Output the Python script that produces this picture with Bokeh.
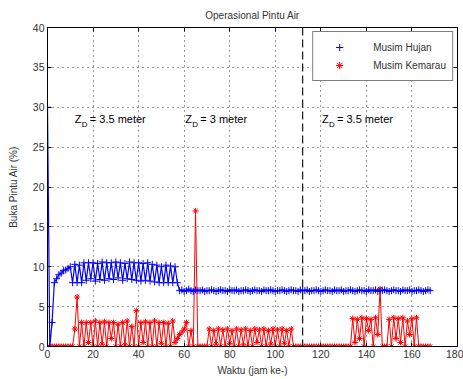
from bokeh.plotting import figure
from bokeh.models import (Range1d, FixedTicker, LinearAxis, Span, Label,
                          Legend, LegendItem, ColumnDataSource)
from bokeh.embed import file_html
from bokeh.resources import INLINE

# ---------------- data ----------------
hours = list(range(169))

musim_hujan = [
    30, 0, 3, 8, 8.5, 9, 9.2, 9.5, 9.6, 9.8,
    10, 8, 10.3, 8, 10.2, 8, 10.5, 8.3, 10.5, 8.5,
    10.5, 8.2, 10.4, 8.4, 10.6, 8.3, 10.5, 8.5, 10.5, 8.4,
    10.6, 8.6, 10.5, 8.3, 10.4, 8.5, 10.6, 8.4, 10.5, 8.3,
    10.5, 8.2, 10.4, 8.3, 10.5, 8.2, 10.3, 8.1, 10.2, 8.0,
    10.0, 8.0, 10.2, 8.0, 10.1, 8.0, 10.0, 8.0,
    7.0, 7.1, 6.9, 7.0, 7.2, 7.0, 6.9, 7.1, 7.0, 7.0,
    7.1, 6.9, 7.0, 7.0, 7.1, 7.0, 6.9, 7.0, 7.1, 7.0,
    7.0, 6.9, 7.1, 7.0, 7.0, 7.1, 6.9, 7.0, 7.0, 7.1,
    7.0, 6.9, 7.0, 7.1, 7.0, 7.0, 6.9, 7.1, 7.0, 7.0,
    7.1, 7.0, 6.9, 7.0, 7.0, 7.1, 7.0, 6.9, 7.0, 7.1,
    7.0, 7.0, 6.9, 7.1, 7.0, 7.0, 7.1, 6.9, 7.0, 7.0,
    7.1, 7.0, 6.9, 7.0, 7.1, 7.0, 7.0, 6.9, 7.1, 7.0,
    7.0, 7.1, 6.9, 7.0, 7.0, 7.1, 7.0, 6.9, 7.0, 7.1,
    7.0, 7.0, 6.9, 7.1, 7.0, 7.0, 7.1, 6.9, 7.0, 7.0,
    7.1, 7.0, 6.9, 7.0, 7.1, 7.0, 7.0, 6.9, 7.1, 7.0,
    7.0, 7.1, 6.9, 7.0, 7.0, 7.1, 7.0, 6.9, 7.0, 7.1,
    7.0,
]

musim_kemarau = [
    0, 0, 0, 0, 0, 0, 0, 0, 0, 0,
    0, 0, 2.2, 6.2, 0, 3, 0, 3, 0.5, 3,
    0, 3.2, 0, 3, 0.3, 3.1, 0, 3, 1, 3,
    0, 2.8, 0, 3, 0.2, 3.2, 0, 2.5, 0, 4.5,
    0, 3, 0.5, 3.1, 0, 3, 0, 3.2, 0, 3,
    0.4, 3, 0, 2.9, 0, 3.2, 0.5, 1, 1.5, 1.8,
    2.2, 3, 0, 2, 0, 17, 0, 0, 0, 0,
    0, 2.2, 0, 2, 0.3, 2.2, 0, 2.1, 0, 2.2,
    0.4, 2, 0, 2.2, 0, 2.1, 0.2, 2.2, 0, 2,
    0, 2.2, 0.5, 2.1, 0, 2.2, 0, 2, 0.3, 2.2,
    0, 2.1, 0, 2.2, 0.4, 2, 0, 2.2, 0, 0,
    0, 0, 0, 0, 0, 0, 0, 0, 0, 0,
    0, 0, 0, 0, 0, 0, 0, 0, 0, 0,
    0, 0, 0, 0, 3.5, 0.5, 3.4, 1, 3.6, 0,
    3.5, 2, 3.4, 0, 3.6, 1.5, 7.2, 0, 0, 0,
    3.4, 0, 3.6, 1, 3.5, 0.5, 3.6, 0, 3.2, 1.5,
    3.5, 0, 3.6, 0, 0, 0, 0, 0, 0,
]

x_ticks = [0, 20, 40, 60, 80, 100, 120, 140, 160, 180]
y_ticks = [0, 5, 10, 15, 20, 25, 30, 35, 40]
divider_x = 112
zone_x = [12, 60.5, 120.5]
zone_y = [28.5, 28.5, 28.5]
zone_depth = ["3.5", "3", "3.5"]

FONT = "Liberation Sans"
TXT = "#333333"

p = figure(width=463, height=379, output_backend="svg", toolbar_location=None,
           x_range=Range1d(0, 180), y_range=Range1d(0, 40),
           min_border_left=47, min_border_right=6, min_border_top=27,
           min_border_bottom=33, title="Operasional Pintu Air")

p.title.align = "center"
p.title.vertical_align = "top"
p.title.text_font = FONT
p.title.text_font_size = "10px"
p.title.text_font_style = "normal"
p.title.text_color = TXT
p.title.standoff = 9

p.outline_line_color = "black"
p.outline_line_width = 1
p.background_fill_color = "white"
p.border_fill_color = "white"

for ax, ticks, lab in ((p.xaxis[0], x_ticks, "Waktu (jam ke-)"),
                       (p.yaxis[0], y_ticks, "Buka Pintu Air (%)")):
    ax.ticker = FixedTicker(ticks=ticks)
    ax.axis_label = lab
    ax.axis_label_text_font = FONT
    ax.axis_label_text_font_size = "10px"
    ax.axis_label_text_font_style = "normal"
    ax.axis_label_text_color = TXT
    ax.major_label_text_font = FONT
    ax.major_label_text_font_size = "10.5px"
    ax.major_label_text_color = TXT
    ax.major_tick_in = 4
    ax.major_tick_out = 0
    ax.minor_tick_line_color = None
    ax.axis_line_color = "black"
    ax.major_label_standoff = 3
p.xaxis[0].axis_label_standoff = 4
p.yaxis[0].axis_label_standoff = 11

for loc, ticks in (("above", x_ticks), ("right", y_ticks)):
    ax = LinearAxis(ticker=FixedTicker(ticks=ticks))
    ax.major_label_text_font_size = "1px"
    ax.major_label_text_color = None
    ax.major_label_standoff = 0
    ax.major_tick_in = 4
    ax.major_tick_out = 0
    ax.minor_tick_line_color = None
    ax.axis_line_color = "black"
    p.add_layout(ax, loc)

p.xgrid.ticker = FixedTicker(ticks=x_ticks)
p.ygrid.ticker = FixedTicker(ticks=y_ticks)
for g in (p.xgrid, p.ygrid):
    g.grid_line_color = "black"
    g.grid_line_dash = "1 4"
    g.grid_line_alpha = 0.8

src = ColumnDataSource(dict(t=hours, hujan=musim_hujan, kemarau=musim_kemarau))

p.line("t", "kemarau", source=src, line_color="#ff0000", line_width=1)
r_kem = p.scatter("t", "kemarau", source=src, marker="asterisk", size=6,
                  line_color="#ff0000", line_width=1)
p.line("t", "hujan", source=src, line_color="#0000ff", line_width=1.2)
r_huj = p.scatter("t", "hujan", source=src, marker="cross", size=7,
                  line_color="#0000ff", line_width=1)

p.add_layout(Span(location=divider_x, dimension="height", line_color="#222222",
                  line_dash="8 4", line_width=1.3))

for zx, zy, zd in zip(zone_x, zone_y, zone_depth):
    p.add_layout(Label(x=zx, y=zy, text="Z", text_font=FONT, text_font_size="11px",
                       text_color="black", text_baseline="middle"))
    p.add_layout(Label(x=zx, y=zy, x_offset=7, y_offset=-5, text="D", text_font=FONT,
                       text_font_size="8px", text_color="black", text_baseline="middle"))
    p.add_layout(Label(x=zx, y=zy, x_offset=15, text="= " + zd + " meter", text_font=FONT,
                       text_font_size="11px", text_color="black", text_baseline="middle"))

legend = Legend(items=[LegendItem(label="Musim Hujan", renderers=[r_huj]),
                       LegendItem(label="Musim Kemarau", renderers=[r_kem])],
                location="top_right")
legend.margin = 4
legend.padding = 6
legend.spacing = 0
legend.glyph_width = 40
legend.glyph_height = 18
legend.label_standoff = 14
legend.label_text_font = FONT
legend.label_text_font_size = "10px"
legend.label_text_color = TXT
legend.border_line_color = "black"
legend.border_line_width = 1
legend.background_fill_color = "white"
legend.background_fill_alpha = 1
p.add_layout(legend, "center")

open("out.html", "w").write(file_html(p, INLINE))
